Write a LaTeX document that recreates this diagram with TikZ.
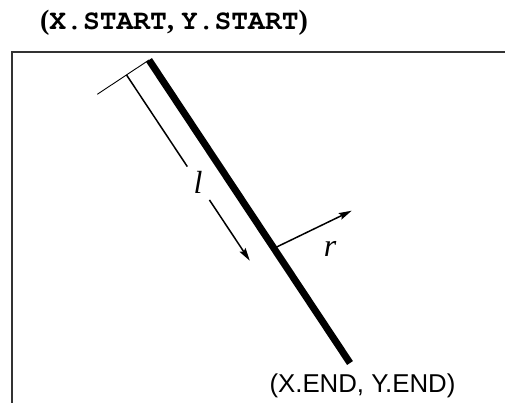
\documentclass[tikz,border=0pt]{standalone}
\usepackage{fontspec}
\setmainfont{Liberation Serif}
\setsansfont{Liberation Sans}
\setmonofont{TeX Gyre Cursor}
\usetikzlibrary{calc,arrows.meta}
\tikzset{
  frame/.style={draw=black!80, line width=2pt},
  rod/.style={line width=7pt, line cap=butt},
  thinline/.style={line width=0.9pt},
  dimline/.style={line width=1.5pt},
  arr/.style={dimline, -{Stealth[length=13pt,width=7pt,inset=2pt]}},
  toplabel/.style={font=\fontsize{28}{32}\selectfont\bfseries, anchor=base, inner sep=0pt},
  botlabel/.style={font=\fontsize{25.8}{30}\selectfont\sffamily, anchor=base, inner sep=0pt},
  sym/.style={font=\fontsize{32}{36}\selectfont\itshape, inner sep=0pt},
}
\begin{document}
\begin{tikzpicture}[x=1pt,y=-1pt]
\useasboundingbox (0,0) rectangle (505,403);
\clip (0,0) rectangle (505,403);
\coordinate (A) at (149,60);
\coordinate (B) at (350,363);
\coordinate (C) at ($(A)!27pt!-90:(B)$);
\coordinate (Cb) at ($(B)!27pt!90:(A)$);
\coordinate (E) at ($(A)!62pt!-90:(B)$);
\coordinate (D1) at ($(C)!110pt!(Cb)$);
\coordinate (D2) at ($(C)!150pt!(Cb)$);
\coordinate (D3) at ($(C)!223pt!(Cb)$);
\coordinate (P) at ($(A)!226pt!(B)$);
\coordinate (R) at (351.7,210.7);
\coordinate (F1) at (12,420);
\coordinate (F2) at (12,52);
\coordinate (F3) at (520,52);
% frame
\draw[frame] (F1) -- (F2) -- (F3);
% extension line
\draw[thinline] (A) -- (E);
% dimension arrow
\draw[dimline] (C) -- (D1);
\draw[arr] (D2) -- (D3);
% r arrow
\draw[arr] (P) -- (R);
% rod
\draw[rod] (A) -- (B);
% labels
\node[toplabel] (st) at (174,30) {(\texttt{X.START}, \texttt{Y.START})};
\node[botlabel] (en) at (362.5,392.7) {(X.END, Y.END)};
\node[sym] (l) at (198,182) {l};
\node[sym] (r) at (330,249) {r};
\end{tikzpicture}
\end{document}
